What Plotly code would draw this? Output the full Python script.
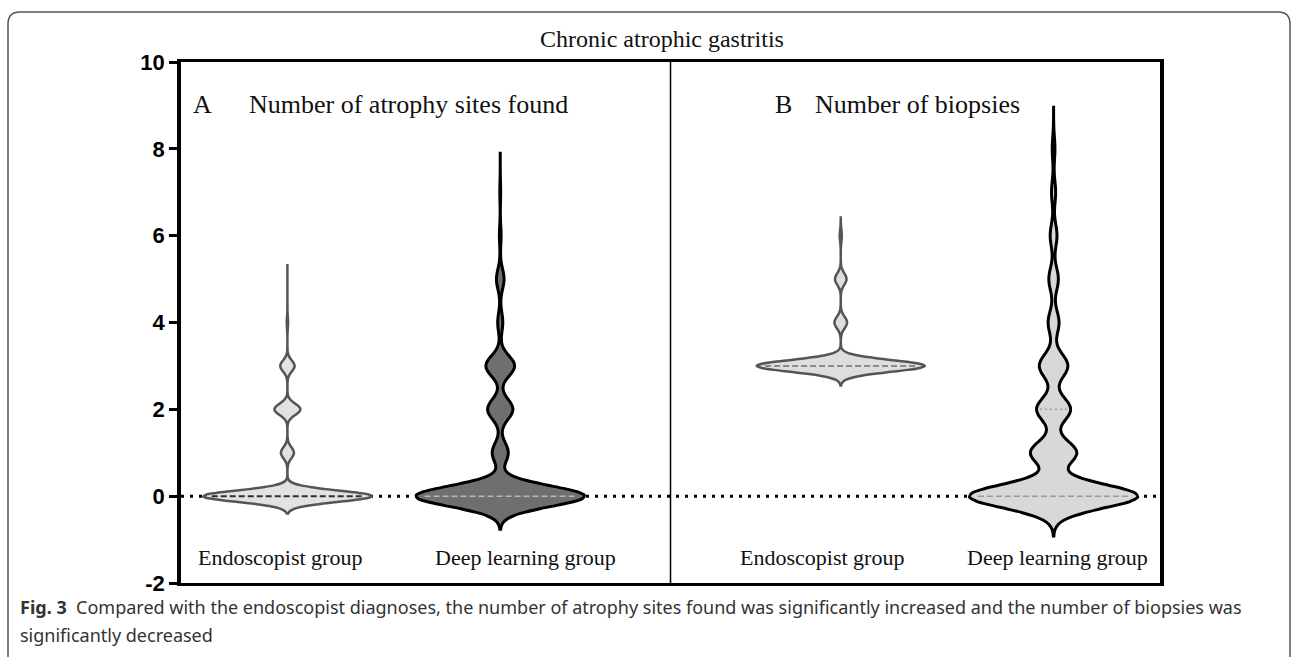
import numpy as np
import plotly.graph_objects as go

# Counts of patients per integer value
values_a = [0, 1, 2, 3, 4, 5, 6, 7]
endo_a_counts = [130, 10, 20, 11, 1, 0, 0, 0]
deep_a_counts = [200, 19, 30, 34, 6, 9, 2, 1]

values_b = [0, 1, 2, 3, 4, 5, 6, 7, 8]
endo_b_counts = [0, 0, 0, 160, 12, 11, 2, 0, 0]
deep_b_counts = [124, 34, 25, 21, 8, 7, 5, 3, 2]

y_ticks = [-2, 0, 2, 4, 6, 8, 10]
group_labels = ["Endoscopist group", "Deep learning group"]
panel_titles = ["Number of atrophy sites found", "Number of biopsies"]
title = "Chronic atrophic gastritis"
caption_1 = ("<b>Fig. 3</b>  Compared with the endoscopist diagnoses, the number of "
             "atrophy sites found was significantly increased and the number of biopsies was")
caption_2 = "significantly decreased"

W, H = 1292, 657
L, R, T, B = 181, 1160, 62, 583
VIOLIN_W = 0.79


def px_x(px):
    return (px - L) / (R - L)


def px_y(py):
    return (B - py) / (B - T)


def expand(values, counts):
    return np.repeat(np.array(values, dtype=float), counts)


def half_width(samples, bw, span, y):
    grid = np.linspace(span[0], span[1], 600)
    dens = lambda v: np.exp(-0.5 * ((v - samples[:, None]) / bw) ** 2).sum(axis=0)
    return VIOLIN_W / 2 * dens(np.array([y]))[0] / dens(grid).max()


violins = [
    dict(samples=expand(values_a, endo_a_counts), pos=0.0, bw=0.13, span=[-0.4, 5.35],
         fill="#e2e2e2", line="#555555", lw=2.5, name=group_labels[0]),
    dict(samples=expand(values_a, deep_a_counts), pos=1.0, bw=0.235, span=[-0.76, 7.93],
         fill="#6f6f6f", line="#000000", lw=3, name=group_labels[1]),
    dict(samples=expand(values_b, endo_b_counts), pos=2.6, bw=0.135, span=[2.55, 6.45],
         fill="#dedede", line="#555555", lw=2.5, name=group_labels[0]),
    dict(samples=expand(values_b, deep_b_counts), pos=3.6, bw=0.27, span=[-0.92, 8.96],
         fill="#d8d8d8", line="#000000", lw=3, name=group_labels[1]),
]
median_styles = [("#2f2f2f", 2, "6px,3px"), ("#b8b8b8", 1.5, "6px,3px"),
                 ("#8a8a8a", 2, "6px,3px"), ("#9a9a9a", 1.5, "6px,3px")]

fig = go.Figure()
shapes = [
    # dotted zero line behind the violins
    dict(type="line", xref="paper", yref="y", x0=0, x1=1, y0=0, y1=0, layer="below",
         line=dict(color="#000000", width=3, dash="3px,6px")),
    # divider between panels
    dict(type="line", xref="x", yref="paper", x0=1.8, x1=1.8, y0=0, y1=1,
         line=dict(color="#000000", width=1.5)),
]

for v, (mc, mw, md) in zip(violins, median_styles):
    fig.add_trace(go.Violin(
        y=v["samples"], x0=v["pos"], name=v["name"], bandwidth=v["bw"],
        spanmode="manual", span=v["span"], scalemode="width", width=VIOLIN_W,
        fillcolor=v["fill"], line=dict(color=v["line"], width=v["lw"]),
        points=False, box_visible=False, meanline_visible=False, showlegend=False,
    ))
    med = float(np.median(v["samples"]))
    hw = half_width(v["samples"], v["bw"], v["span"], med) * 0.9
    shapes.append(dict(type="line", xref="x", yref="y", x0=v["pos"] - hw, x1=v["pos"] + hw,
                       y0=med, y1=med, line=dict(color=mc, width=mw, dash=md)))

# upper quartile of the deep learning biopsies
q3 = float(np.percentile(violins[3]["samples"], 75))
hw = half_width(violins[3]["samples"], violins[3]["bw"], violins[3]["span"], q3) * 0.8
shapes.append(dict(type="line", xref="x", yref="y", x0=3.6 - hw, x1=3.6 + hw, y0=q3, y1=q3,
                   line=dict(color="#a0a0a0", width=1.5, dash="2px,3px")))

# rounded outer frame of the figure
fx0, fx1, fy0, fy1 = px_x(8), px_x(1290), px_y(12), px_y(700)
rx, ry = 12 / (R - L), 12 / (B - T)
shapes.append(dict(
    type="path", xref="paper", yref="paper", layer="above",
    path=(f"M {fx0},{fy1} L {fx0},{fy0 - ry} Q {fx0},{fy0} {fx0 + rx},{fy0} "
          f"L {fx1 - rx},{fy0} Q {fx1},{fy0} {fx1},{fy0 - ry} L {fx1},{fy1}"),
    line=dict(color="#555555", width=1.5)))

serif = "Liberation Serif"
annotations = [
    dict(text=title, x=px_x(662), y=px_y(39), font=dict(size=24)),
    dict(text="A", x=px_x(202), y=px_y(104), font=dict(size=26)),
    dict(text=panel_titles[0], x=px_x(247), y=px_y(104), xanchor="left", font=dict(size=26)),
    dict(text="B", x=px_x(783), y=px_y(104), font=dict(size=26)),
    dict(text=panel_titles[1], x=px_x(813), y=px_y(104), xanchor="left", font=dict(size=26)),
    dict(text=group_labels[0], x=px_x(280), y=px_y(557), font=dict(size=22)),
    dict(text=group_labels[1], x=px_x(525), y=px_y(557), font=dict(size=22)),
    dict(text=group_labels[0], x=px_x(822), y=px_y(557), font=dict(size=22)),
    dict(text=group_labels[1], x=px_x(1057), y=px_y(557), font=dict(size=22)),
]
for a in annotations:
    a.update(xref="paper", yref="paper", showarrow=False, yanchor="middle")
    a.setdefault("xanchor", "center")
    a["font"].update(family=serif, color="#111111")

for text, py in [(caption_1, 607), (caption_2, 635)]:
    annotations.append(dict(text=text, x=px_x(18), y=px_y(py), xref="paper", yref="paper",
                            xanchor="left", yanchor="middle", showarrow=False,
                            font=dict(family="Noto Sans", size=18, color="#333333")))

fig.update_layout(
    width=W, height=H,
    margin=dict(l=L, r=W - R, t=T, b=H - B),
    paper_bgcolor="white", plot_bgcolor="white",
    violinmode="overlay",
    shapes=shapes, annotations=annotations,
    xaxis=dict(range=[-0.5, 4.1], showgrid=False, zeroline=False, showticklabels=False,
               showline=True, mirror=True, linecolor="#000000", linewidth=3, ticks=""),
    yaxis=dict(range=[-2, 10], tickvals=y_ticks, ticktext=[str(t) for t in y_ticks],
               showgrid=False, zeroline=False, showline=True, mirror=True,
               linecolor="#000000", linewidth=3.5, ticks="outside", ticklen=8,
               tickwidth=3, tickcolor="#000000",
               tickfont=dict(family="Liberation Sans", size=22, color="#000000",
                             weight="bold")),
)

fig.write_html("out.html", config={"displayModeBar": False},
               post_script="document.body.style.margin = '0';")
